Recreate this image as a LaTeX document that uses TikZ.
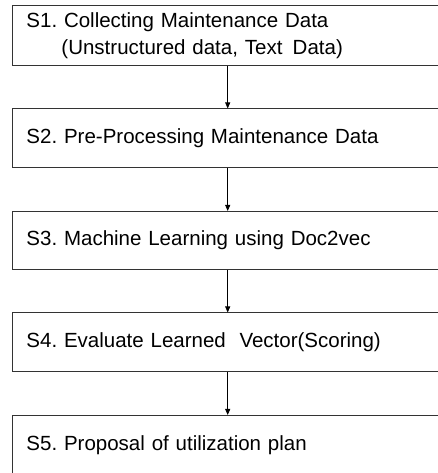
\documentclass[tikz,border=0pt]{standalone}
\usepackage{fontspec}
\setmainfont{Liberation Sans}
\usetikzlibrary{arrows.meta}
\frenchspacing
\begin{document}
\begin{tikzpicture}[x=1pt,y=1pt,
  stepbox/.style={draw=black!80, line width=0.9pt, rectangle, anchor=north west,
    minimum width=460pt, minimum height=60pt, inner xsep=14.5pt, inner ysep=0pt,
    text width=431pt, align=left,
    font=\fontsize{20.5pt}{26.5pt}\selectfont\frenchspacing},
  arr/.style={draw=black, line width=0.8pt, -{Triangle[length=6pt,width=5pt]}}]
\useasboundingbox (0,0) rectangle (438,473);
\clip (0,0) rectangle (438,473);
\node[stepbox, minimum height=60.5pt] (s1) at (11.5,468) {S1. Collecting Maintenance Data\\\hspace*{35pt}(Unstructured data, Text\, Data)};
\node[stepbox, minimum height=59pt] (s2) at (11.5,364.5) {S2. Pre-Processing Maintenance Data};
\node[stepbox, minimum height=58pt] (s3) at (11.5,262) {S3. Machine Learning using Doc2vec};
\node[stepbox, minimum height=58.5pt] (s4) at (11.5,160.5) {S4. Evaluate Learned~ Vector(Scoring)};
\node[stepbox, minimum height=60pt] (s5) at (11.5,58) {S5. Proposal of utilization plan};
\coordinate (ax) at (227.7,0);
\draw[arr] (s1.south -| ax) -- (s2.north -| ax);
\draw[arr] (s2.south -| ax) -- (s3.north -| ax);
\draw[arr] (s3.south -| ax) -- (s4.north -| ax);
\draw[arr] (s4.south -| ax) -- (s5.north -| ax);
\end{tikzpicture}
\end{document}
